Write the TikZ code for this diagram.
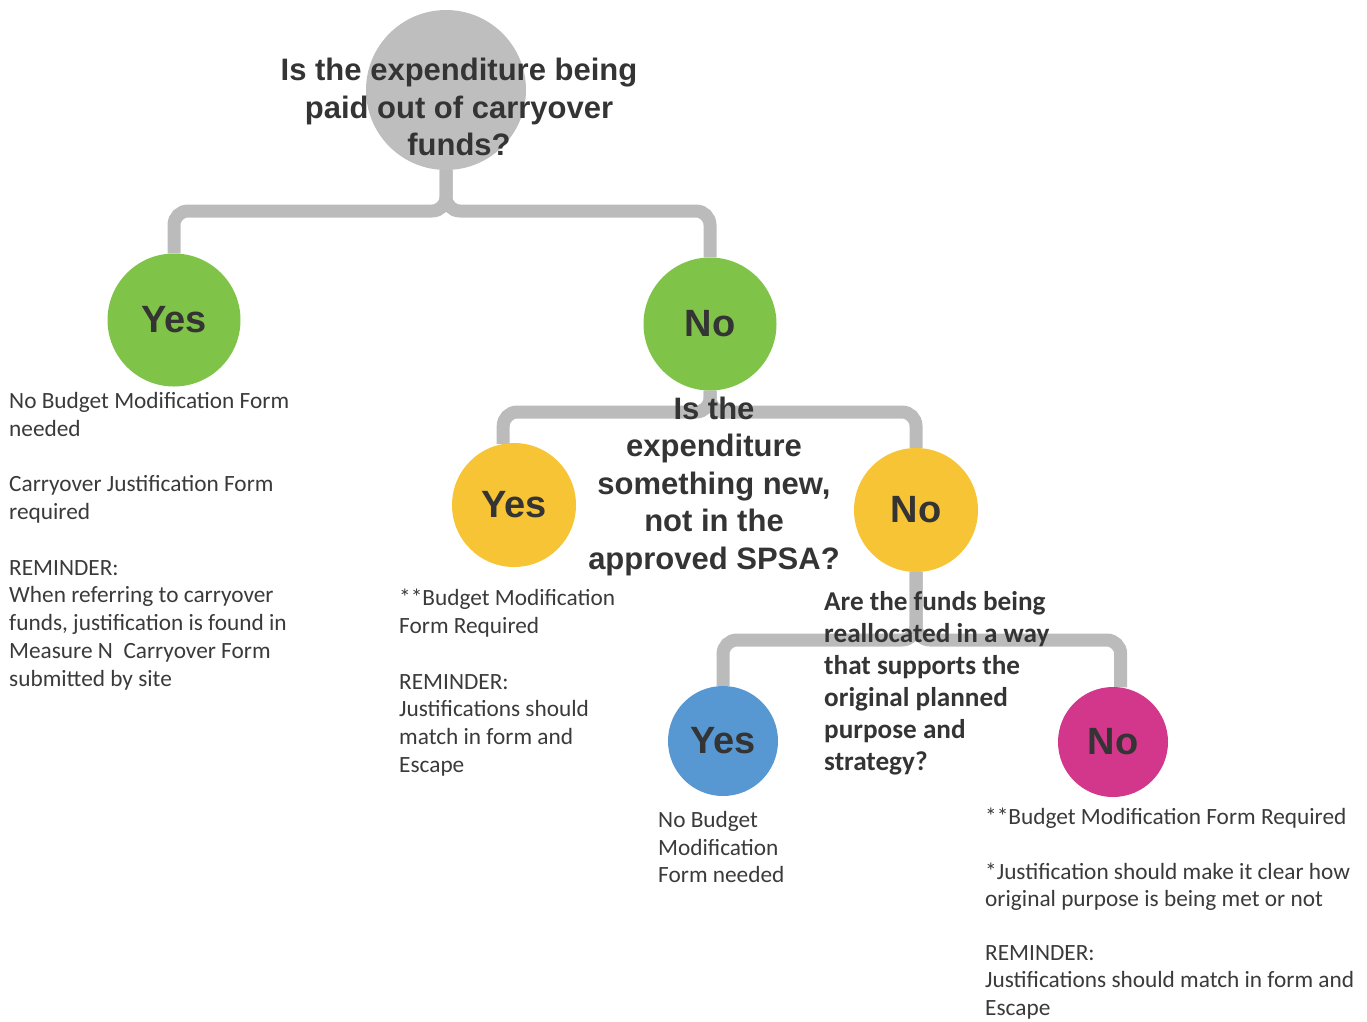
\documentclass[tikz,border=0pt]{standalone}
\usepackage{fontspec}
\setmainfont{Carlito}
\newfontfamily\qfont{Liberation Sans}
\usetikzlibrary{calc}
\pgfdeclarelayer{bg}
\pgfsetlayers{bg,main}
\definecolor{cgray}{RGB}{190,190,190}
\definecolor{lgray}{RGB}{187,187,187}
\definecolor{cgreen}{RGB}{127,196,72}
\definecolor{cyellow}{RGB}{246,196,52}
\definecolor{cblue}{RGB}{88,152,210}
\definecolor{cpink}{RGB}{210,55,140}
\definecolor{ink}{RGB}{52,52,52}
\definecolor{bodyink}{RGB}{58,58,58}
\begin{document}
\begin{tikzpicture}[x=1pt,y=-1pt,
  ball/.style={circle,inner sep=0pt,minimum size=#1,text=ink,
    font=\qfont\bfseries\fontsize{38}{40}\selectfont},
  qtext/.style={align=center,inner sep=0pt,text=ink,
    font=\qfont\bfseries\fontsize{31}{37.5}\selectfont},
  q3text/.style={align=left,inner sep=0pt,text=ink,
    font=\bfseries\fontsize{27.2}{32}\selectfont},
  body/.style={align=left,inner sep=0pt,text=bodyink,
    font=\fontsize{23.3}{27.8}\selectfont},
  conn/.style={draw=lgray,line width=13pt,rounded corners=14pt}]
\useasboundingbox (0,0) rectangle (1367,1021);
% circles
\node[ball=160,fill=cgray] (q1) at (446,90) {};
\node[ball=133,fill=cgreen] (yes1) at (174,320) {Yes};
\node[ball=133,fill=cgreen] (no1) at (710,324) {No};
\node[ball=124,fill=cyellow] (yes2) at (514,505) {Yes};
\node[ball=124,fill=cyellow] (no2) at (916,510) {No};
\node[ball=110,fill=cblue] (yes3) at (723,741) {Yes};
\node[ball=110,fill=cpink] (no3) at (1113,742) {No};
% questions
\node[qtext] (q1t) at (459,107) {Is the expenditure being\\paid out of carryover\\funds?};
\node[qtext] (q2) at (714,486) {Is the\\expenditure\\something new,\\not in the\\approved SPSA?};
\node[q3text,anchor=north west] (q3) at (824,591) {Are the funds being\\reallocated in a way\\that supports the\\original planned\\purpose and\\strategy?};
% bar levels
\coordinate (b1) at (446,211);
\coordinate (b2) at (710,412);
\coordinate (b3) at (916,640);
% connectors
\begin{pgfonlayer}{bg}
\draw[conn] (q1.south) -- (q1.south |- b1) -| (yes1.north);
\draw[conn] (q1.south) -- (q1.south |- b1) -| (no1.north);
\draw[conn] (no1.south) -- (b2) -| (yes2.100);
\draw[conn] (no1.south) -- (b2) -| (no2.north);
\draw[conn] (no2.south) -- (b3) -| (yes3.north);
\draw[conn] (no2.south) -- (b3) -| (no3.82);
\end{pgfonlayer}
% outcome texts
\node[body,anchor=north west] (t1) at (9,392) {No Budget Modification Form\\needed\\[27.8pt]Carryover Justification Form\\required\\[27.8pt]REMINDER:\\When referring to carryover\\funds, justification is found in\\Measure N\ \ Carryover Form\\submitted by site};
\node[body,anchor=north west] (t2) at (399,589) {**Budget Modification\\Form Required\\[27.8pt]REMINDER:\\Justifications should\\match in form and\\Escape};
\node[body,anchor=north west] (t3) at (658,811) {No Budget\\Modification\\Form needed};
\node[body,anchor=north west,font=\fontsize{23.3}{27.2}\selectfont] (t4) at (985,808) {**Budget Modification Form Required\\[27.2pt]*Justification should make it clear how\\original purpose is being met or not\\[27.2pt]REMINDER:\\Justifications should match in form and\\Escape};
\end{tikzpicture}
\end{document}
